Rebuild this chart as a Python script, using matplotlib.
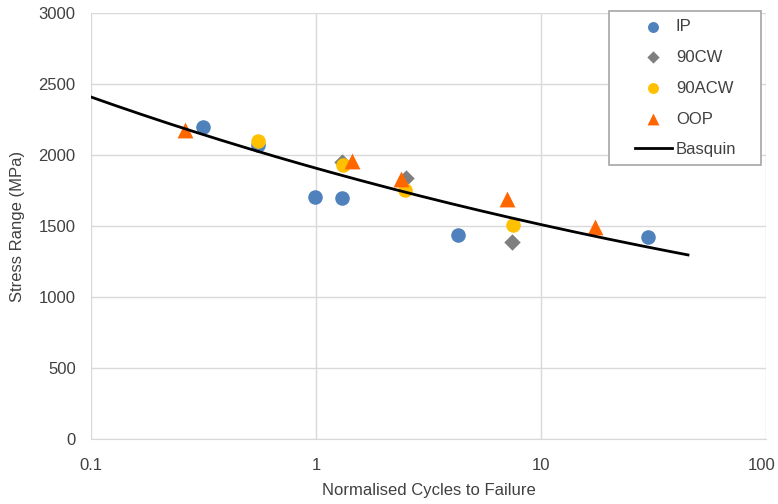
import numpy as np
import matplotlib
matplotlib.use("Agg")
import matplotlib.pyplot as plt
import matplotlib.transforms as mtransforms
from matplotlib.patches import Rectangle

plt.rcParams['font.family'] = ['Liberation Sans', 'DejaVu Sans']

# Data (cycles normalised, stress range in MPa)
ip_n = [0.315, 0.552, 0.99, 1.31, 4.28, 29.9]
ip_s = [2197, 2070, 1704, 1700, 1437, 1422]

cw_n = [1.30, 2.51, 7.43]
cw_s = [1950, 1838, 1387]

acw_n = [0.552, 1.32, 2.49, 7.5]
acw_s = [2099, 1930, 1754, 1507]

oop_n = [0.262, 1.45, 2.39, 7.06, 17.4]
oop_s = [2176, 1955, 1830, 1690, 1490]

# Basquin fit: S = A * N^b
basquin_A = 1907
basquin_b = -0.1014
basquin_range = [0.1, 45]

x_ticks = [0.1, 1, 10, 100]
x_ticklabels = ['0.1', '1', '10', '100']
y_ticks = [0, 500, 1000, 1500, 2000, 2500, 3000]


def main():
    W, H = 778, 504
    fig = plt.figure(figsize=(W / 100, H / 100), dpi=100)
    ax = fig.add_axes([91 / W, (H - 439) / H, 675 / W, 426 / H])

    grid_col = '#d9d9d9'
    text_col = '#404040'

    ax.scatter(ip_n, ip_s, s=110, marker='o', color='#4F81BD', label='IP', zorder=3, linewidths=0)
    ax.scatter(cw_n, cw_s, s=70, marker='D', color='#7F7F7F', label='90CW', zorder=4, linewidths=0)
    ax.scatter(acw_n, acw_s, s=110, marker='o', color='#FFC000', label='90ACW', zorder=5, linewidths=0)
    ax.scatter(oop_n, oop_s, s=130, marker='^', color='#FF6600', label='OOP', zorder=6, linewidths=0)

    n_line = np.logspace(np.log10(basquin_range[0]), np.log10(basquin_range[1]), 200)
    ax.plot(n_line, basquin_A * n_line ** basquin_b, color='black', linewidth=2, label='Basquin', zorder=7)

    ax.set_xscale('log')
    ax.set_xlim(0.1, 100)
    ax.set_ylim(0, 3000)
    ax.set_xticks(x_ticks)
    ax.set_xticklabels(x_ticklabels)
    ax.minorticks_off()
    ax.set_yticks(y_ticks)

    ax.grid(True, color=grid_col, linewidth=1)
    ax.set_axisbelow(True)
    for sp in ax.spines.values():
        sp.set_visible(False)
    ax.spines['bottom'].set_visible(True)
    ax.spines['bottom'].set_color(grid_col)

    ax.tick_params(length=0, labelsize=12, labelcolor=text_col)
    ax.tick_params(axis='x', pad=14)
    ax.tick_params(axis='y', pad=11)
    ax.set_xlabel('Normalised Cycles to Failure', fontsize=12, color=text_col, labelpad=7)
    ax.set_ylabel('Stress Range (MPa)', fontsize=12, color=text_col, labelpad=10)

    # nudge the last tick label so it stays inside the picture
    last = ax.get_xticklabels()[-1]
    last.set_transform(last.get_transform() +
                       mtransforms.ScaledTranslation(-4 / 100, 0, fig.dpi_scale_trans))

    # legend frame drawn separately so the padding matches the original
    frame = Rectangle((609 / W, (H - 165) / H), 152 / W, 154 / H, transform=fig.transFigure,
                      facecolor='white', edgecolor='#a6a6a6', linewidth=1.2, zorder=9)
    fig.add_artist(frame)

    leg = fig.legend(*ax.get_legend_handles_labels(), loc='upper left',
                     bbox_to_anchor=(635 / W, (H - 19) / H), fontsize=12,
                     frameon=False, labelspacing=0.95, handlelength=2.2,
                     borderpad=0, handletextpad=0.25, borderaxespad=0,
                     markerscale=0.75)
    for t in leg.get_texts():
        t.set_color(text_col)
    leg.set_zorder(10)

    fig.savefig('out.png', dpi=100)


if __name__ == '__main__':
    main()
